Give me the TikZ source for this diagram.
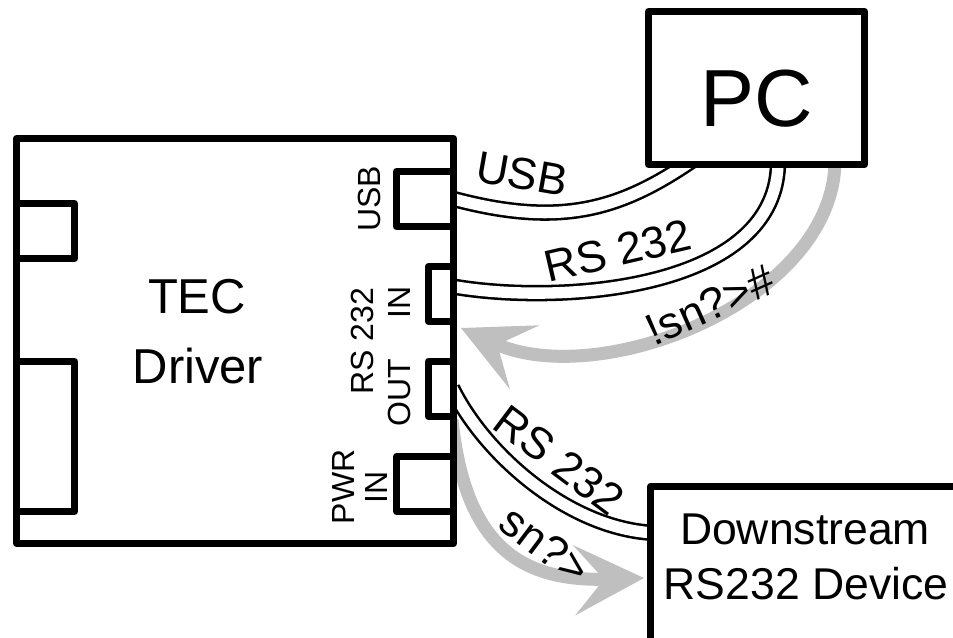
\documentclass[tikz,border=0pt]{standalone}
\usepackage{fontspec}
\setmainfont{Liberation Sans}
\usetikzlibrary{arrows.meta}
\pgfdeclarelayer{bg}
\pgfsetlayers{bg,main}
\definecolor{arrowgray}{RGB}{191,191,191}
\tikzset{
  box/.style={draw=black, line width=5.25pt, fill=white, rectangle, inner sep=0pt, line join=round},
  port/.style={draw=black, line width=5.25pt, line join=round, line cap=round},
  cable/.style={draw=black, line width=1.9pt, double=white, double distance=8.5pt},
  flow/.style={draw=arrowgray, line width=9.75pt, -{Stealth[length=52pt,width=52pt,inset=22pt]}},
  clabel/.style={inner sep=0pt, font=\fontsize{33.5pt}{40pt}\selectfont},
  plabel/.style={inner sep=0pt, rotate=90, font=\fontsize{24pt}{28pt}\selectfont},
  biglabel/.style={inner sep=0pt, font=\fontsize{36.75pt}{44pt}\selectfont},
  dlabel/.style={inner sep=0pt, font=\fontsize{33.4pt}{40pt}\selectfont},
}
\begin{document}
\begin{tikzpicture}[x=0.75pt, y=-0.75pt]
\useasboundingbox (0,0) rectangle (953,638);
\clip (0,0) rectangle (953,638);

% boxes
\node[box, minimum width=327.75pt, minimum height=303.75pt] (tec) at (235,341) {};
\node[box, minimum width=162pt, minimum height=114.75pt] (pc) at (756.5,88) {};
\node[box, minimum width=300pt, minimum height=225pt] (ds) at (850.5,636.5) {};

% cable end points
\coordinate (tecUSB) at (450,198);
\coordinate (pcUSB) at (693,160);
\coordinate (tecIN) at (450,286);
\coordinate (pcRS) at (778,160);
\coordinate (tecOUT) at (452,388);
\coordinate (dsRS) at (656,533);
\coordinate (pcArr) at (835,160);
\coordinate (tecArr) at (461,328);
\coordinate (tecArr2) at (452,420);
\coordinate (dsArr) at (644,578);

\begin{pgfonlayer}{bg}
  \fill[white] (0,0) rectangle (953,638);
  \draw[cable] (tecUSB) .. controls (560,228) and (620,210) .. (pcUSB);
  \draw[cable] (tecIN) .. controls (560,306) and (780,290) .. (pcRS);
  \draw[cable] (tecOUT) .. controls (485,455) and (570,530) .. (dsRS);
  \draw[flow] (pcArr) .. controls (835,300) and (600,392) .. (tecArr);
  \draw[flow] (tecArr2) .. controls (465,545) and (520,582) .. (dsArr);
\end{pgfonlayer}

% ports on TEC driver
\draw[port] (16.5,203.5) -- (74.5,203.5) -- (74.5,258.5) -- (16.5,258.5);
\draw[port] (16.5,361.5) -- (74.5,361.5) -- (74.5,511.5) -- (16.5,511.5);
\draw[port] (453.5,171.5) -- (396.5,171.5) -- (396.5,226.5) -- (453.5,226.5);
\draw[port] (453.5,266.5) -- (428.5,266.5) -- (428.5,321.5) -- (453.5,321.5);
\draw[port] (453.5,361.5) -- (428.5,361.5) -- (428.5,416.5) -- (453.5,416.5);
\draw[port] (453.5,456.5) -- (396.5,456.5) -- (396.5,511.5) -- (453.5,511.5);

% texts
\node[biglabel] (tecT) at (197,297) {TEC};
\node[biglabel] (tecD) at (198,366) {Driver};
\node[inner sep=0pt, font=\fontsize{60.75pt}{70pt}\selectfont] (pcT) at (757,99) {PC};
\node[dlabel] (dsT1) at (805,529) {Downstream};
\node[dlabel] (dsT2) at (806,583.5) {RS232 Device};

\node[plabel] (pUSB) at (369,199) {USB};
\node[plabel] (pRS) at (362,341) {RS 232};
\node[plabel] (pIN) at (399,302) {IN};
\node[plabel] (pOUT) at (399,393) {OUT};
\node[plabel] (pPWR) at (343,487) {PWR};
\node[plabel] (pPIN) at (376,487) {IN};

\node[clabel, rotate=-10] (lUSB) at (522,174) {USB};
\node[clabel, rotate=13] (lRS1) at (618,251) {RS 232};
\node[clabel, rotate=24] (lcmd) at (710,305) {!sn?>\#};
\node[clabel, rotate=-37] (lRS2) at (559,460) {RS 232};
\node[clabel, rotate=-37] (lresp) at (545,545) {sn?>};
\end{tikzpicture}
\end{document}
